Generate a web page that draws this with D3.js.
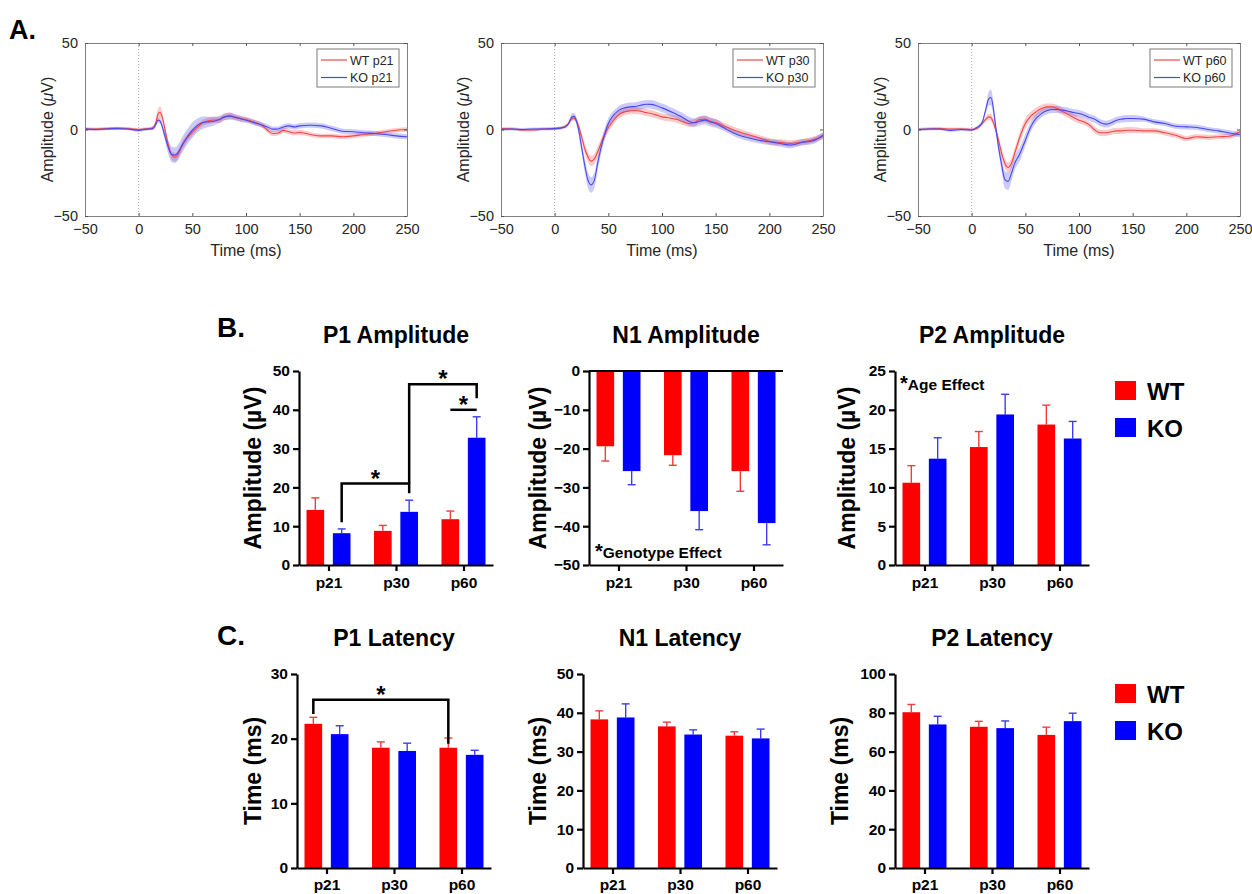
<!DOCTYPE html>
<html>
<head>
<meta charset="utf-8">
<script src="https://cdn.jsdelivr.net/npm/d3@7"></script>
<style>
  body { margin: 0; background: #fff; }
  text { font-family: "Liberation Sans", Arial, Helvetica, sans-serif; }
</style>
</head>
<body>
<script>
// ---- A. grand average waveforms (µV) ----
var times = [-50, -40, -30, -20, -10, 0, 5, 10, 13, 16, 18, 20, 22, 25, 28, 31, 34, 37, 40,
  45, 50, 55, 60, 65, 70, 75, 80, 85, 90, 95, 100, 105, 110, 115, 120, 125, 130, 135, 140, 145, 150,
  160, 170, 180, 190, 200, 210, 220, 230, 240, 250];

var wtP21 = [0, 0.3, 0.5, 0.8, 0.5, 0, 0.3, 0.5, 1, 4, 9, 10, 7, -1.5, -10, -15, -16, -14, -10,
  -5, -1.5, 1.5, 4, 5, 5.5, 5.5, 7.3, 8, 7, 6.3, 5.8, 4.8, 3.8, 2.5, -0.4, -2.3, -2, -0.5, -1.3, -2, -1.7,
  -2.9, -3.7, -3.7, -4.2, -3.7, -2.9, -2.3, -1.3, -0.4, 0];
var wtP21Sem = [0.8, 0.8, 0.8, 0.8, 0.8, 0.8, 0.8, 0.8, 1, 2, 3, 3.5, 3, 2.5, 2.5, 2.5, 2.5, 2.5, 2.5,
  2.2, 2, 1.8, 1.8, 1.8, 1.8, 1.8, 1.8, 1.8, 1.5, 1.5, 1.5, 1.5, 1.5, 1.5, 1.5, 1.5, 1.5, 1.5, 1.5, 1.5, 1.5,
  1.3, 1.3, 1.3, 1.3, 1.3, 1.3, 1.3, 1.3, 1.3, 1.3];
var koP21 = [0.5, 0, 0.3, 0.5, 0.3, -0.5, 0, 0.3, 0.5, 3, 5.4, 4.8, 1.5, -5, -11, -14.5, -14.8, -13, -9.5,
  -4.5, -0.4, 2.5, 4, 4.4, 4.8, 5.8, 7.3, 7.7, 7, 6.2, 5.4, 4.5, 3.5, 2.5, 1.5, 0.2, 0.3, 1.5, 2.1, 1.5, 2.1,
  2.5, 2.1, 0.6, -1, -1.3, -1.9, -2.3, -2.9, -3.7, -4.2];
var koP21Sem = [0.8, 0.8, 0.8, 0.8, 0.8, 0.8, 0.8, 0.8, 1, 1.5, 1.5, 1.5, 2, 3, 4, 4.5, 4.5, 4.5, 4.5,
  4.5, 4.5, 4, 3.5, 3, 2.5, 2, 2, 2, 1.8, 1.8, 1.5, 1.5, 1.5, 1.5, 1.5, 1.5, 1.5, 1.5, 1.5, 1.5, 1.5,
  1.5, 1.5, 1.5, 1.5, 1.5, 1.5, 1.5, 1.5, 1.5, 1.5];

var wtP30 = [0.5, 0.3, -0.3, -0.3, 0.3, 0.5, 0.8, 2, 3.5, 6.4, 6.7, 5.4, 2.5, -4, -11, -15.8, -18.3, -17, -13,
  -5.2, 1, 5.4, 8.7, 10.2, 10.8, 11, 10.6, 9.8, 9.2, 8.3, 7.3, 6.9, 6.4, 5.6, 4.4, 3.5, 4, 5.8, 6, 4.8, 4,
  1.5, -1, -2.9, -4.8, -6.8, -7.5, -8, -7.3, -6, -4];
var wtP30Sem = [0.8, 0.8, 0.8, 0.8, 0.8, 0.8, 0.8, 0.8, 1, 1.5, 1.5, 1.5, 2, 2.5, 3, 3, 3, 3, 3,
  2.5, 2.5, 2.2, 2.2, 2, 2, 2, 2, 2, 2, 2, 2, 2, 2, 2, 2, 2, 2, 2, 2, 2, 2,
  1.8, 1.8, 1.8, 1.8, 1.8, 1.8, 1.8, 1.8, 1.8, 1.8];
var koP30 = [0, 0.3, 0, 0.3, 0.3, 0.5, 0.8, 1.5, 3.5, 7.3, 7.7, 5.4, 0.6, -10, -20.6, -29.3, -32, -29.3, -19.7,
  -6.2, 3.5, 8.3, 11.2, 12.5, 13.1, 13.3, 14, 14.6, 14.5, 13.7, 12.5, 11.2, 9.8, 8.3, 6.7, 4.8, 3.9, 4.8, 5.4, 4.4, 3.5,
  0.2, -2.9, -4.8, -6.2, -7.1, -8.1, -9, -7.5, -6.7, -3.3];
var koP30Sem = [0.8, 0.8, 0.8, 0.8, 0.8, 0.8, 0.8, 0.8, 1, 2, 2, 2, 2, 3, 4, 4.5, 4.5, 4.5, 4,
  3.5, 3, 2.5, 2.5, 2.5, 2.5, 2.5, 2.5, 2.5, 2.5, 2.5, 2.5, 2.5, 2.5, 2.5, 2.5, 2.5, 2.5, 2.5, 2.5, 2.5, 2.5,
  1.8, 1.8, 1.8, 1.8, 1.8, 1.8, 1.8, 1.8, 1.8, 1.8];

var wtP60 = [0, 0.3, 0.5, 0.3, 0.3, 0, 0.6, 3.5, 5.8, 7.3, 6.9, 4.4, 0.6, -6.2, -13.9, -19.7, -22, -19.7, -13.9,
  -4.2, 3.5, 7.7, 10.2, 12.1, 13.1, 13.1, 12.1, 10.2, 8.7, 6.9, 5.4, 4.4, 2.5, -0.4, -1.9, -1.9, -1.3, -0.8, -0.8, -0.4, -0.4,
  -0.8, -0.8, -1.9, -3.3, -5.2, -4.2, -4.6, -4.2, -3.9, -1.3];
var wtP60Sem = [0.8, 0.8, 0.8, 0.8, 0.8, 0.8, 0.8, 0.8, 1.2, 2, 2, 2, 2, 2.5, 3, 3, 3, 3, 3,
  3, 3, 2.5, 2.5, 2.2, 2, 2, 2, 2, 2, 2, 2, 1.8, 1.8, 1.8, 1.8, 1.8, 1.8, 1.8, 1.8, 1.8, 1.8,
  1.5, 1.5, 1.5, 1.5, 1.5, 1.5, 1.5, 1.5, 1.5, 1.5];
var koP60 = [0, 0.3, 0.3, -0.5, 0, -0.3, 1.2, 4.4, 11.2, 17.9, 18.5, 13.1, 3.5, -10, -20.6, -29, -30, -25.4, -19.7,
  -13.9, -6.2, 1.5, 6.4, 9.2, 10.8, 11.6, 11.6, 11.2, 10.6, 9.8, 9.2, 8.3, 6.9, 5.8, 3.9, 3.1, 3.9, 5.4, 6, 6.4, 6.4,
  6, 4.4, 3.5, 1.9, 1.5, 1.2, 0, -0.8, -2, -3];
var koP60Sem = [0.8, 0.8, 0.8, 0.8, 0.8, 0.8, 0.8, 0.8, 2, 4, 4.5, 4, 3, 3, 4, 5, 5, 4.5, 4,
  4, 3.5, 3, 2.5, 2.2, 2, 2, 2, 2, 2, 2, 2, 2, 2, 2, 2, 2, 2, 2, 2, 2, 2,
  1.5, 1.5, 1.5, 1.5, 1.5, 1.5, 1.5, 1.5, 1.5, 1.5];

// ---- B / C. peak measures (mean and SEM) ----
var ages = ['p21', 'p30', 'p60'];
var genotypes = ['WT', 'KO'];

var p1AmpWT = [14.2, 8.8, 11.8], p1AmpWTErr = [3.1, 1.4, 2.1];
var p1AmpKO = [8.2, 13.7, 32.8], p1AmpKOErr = [1.1, 3.0, 5.4];
var n1AmpWT = [-19.4, -21.7, -25.8], n1AmpWTErr = [3.8, 2.6, 5.2];
var n1AmpKO = [-25.8, -36.1, -39.2], n1AmpKOErr = [3.5, 4.8, 5.6];
var p2AmpWT = [10.6, 15.2, 18.1], p2AmpWTErr = [2.2, 2.0, 2.5];
var p2AmpKO = [13.7, 19.4, 16.3], p2AmpKOErr = [2.7, 2.6, 2.2];

var p1LatWT = [22.3, 18.6, 18.6], p1LatWTErr = [1.0, 0.9, 1.5];
var p1LatKO = [20.7, 18.1, 17.5], p1LatKOErr = [1.3, 1.2, 0.7];
var n1LatWT = [38.3, 36.5, 34.1], n1LatWTErr = [2.2, 1.1, 1.0];
var n1LatKO = [38.8, 34.4, 33.4], n1LatKOErr = [3.5, 1.2, 2.4];
var p2LatWT = [80.3, 72.8, 68.6], p2LatWTErr = [4.0, 2.8, 4.0];
var p2LatKO = [74.0, 72.1, 75.7], p2LatKOErr = [4.2, 3.7, 4.1];

// significance brackets: [age, genotype, value] corner points
var p1AmpBrackets = [
  [['p21', 'KO', 11], ['p21', 'KO', 21], ['p30', 'KO', 21], ['p30', 'KO', 18.5]],
  [['p30', 'KO', 21], ['p30', 'KO', 46.6], ['p60', 'KO', 46.6], ['p60', 'KO', 43]],
  [['p60', 'WT', 40], ['p60', 'KO', 40]]
];
var p1LatBrackets = [
  [['p21', 'WT', 23.8], ['p21', 'WT', 26], ['p60', 'WT', 26], ['p60', 'WT', 19.2]]
];

var svg = d3.select('body').append('svg').attr('width', 1252).attr('height', 894);

var RED = '#ff0000', BLUE = '#0000ff';

// ---------------- A ----------------
svg.append('text').attr('x', 9).attr('y', 39)
  .style('font-size', '27px').style('font-weight', 'bold').text('A.');

var erpPanels = [
  {left: 85, age: 'p21', wt: wtP21, wtSem: wtP21Sem, ko: koP21, koSem: koP21Sem},
  {left: 501, age: 'p30', wt: wtP30, wtSem: wtP30Sem, ko: koP30, koSem: koP30Sem},
  {left: 918, age: 'p60', wt: wtP60, wtSem: wtP60Sem, ko: koP60, koSem: koP60Sem}
];
erpPanels.forEach(drawErp);

function drawErp(p, i) {
  var top = 43, bottom = 216, width = 322;
  var x = d3.scaleLinear().domain([-50, 250]).range([p.left, p.left + width]);
  var y = d3.scaleLinear().domain([-50, 50]).range([bottom, top]);
  var g = svg.append('g').attr('class', 'erp');

  g.append('clipPath').attr('id', 'erpclip' + i).append('rect')
    .attr('x', p.left).attr('y', top).attr('width', width).attr('height', bottom - top);

  g.append('line')
    .attr('x1', x(0)).attr('x2', x(0)).attr('y1', top).attr('y2', bottom)
    .attr('stroke', '#aaa').attr('stroke-width', 1).attr('stroke-dasharray', '1,2');

  var traces = g.append('g').attr('clip-path', 'url(#erpclip' + i + ')');
  var series = [
    {m: p.wt, s: p.wtSem, fill: '#f03a3a', line: '#f04848'},
    {m: p.ko, s: p.koSem, fill: '#3a3af0', line: '#4848f0'}
  ];
  series.forEach(function(sr) {
    var pts = times.map(function(t, j) { return {t: t, m: sr.m[j], s: sr.s[j]}; });
    var area = d3.area().curve(d3.curveMonotoneX)
      .x(function(d) { return x(d.t); })
      .y0(function(d) { return y(d.m - d.s); })
      .y1(function(d) { return y(d.m + d.s); });
    traces.append('path').datum(pts).attr('d', area)
      .attr('fill', sr.fill).attr('fill-opacity', 0.27);
  });
  series.forEach(function(sr) {
    var pts = times.map(function(t, j) { return {t: t, m: sr.m[j]}; });
    var line = d3.line().curve(d3.curveMonotoneX)
      .x(function(d) { return x(d.t); })
      .y(function(d) { return y(d.m); });
    traces.append('path').datum(pts).attr('d', line)
      .attr('fill', 'none').attr('stroke', sr.line).attr('stroke-width', 1.1);
  });

  var xt = [-50, 0, 50, 100, 150, 200, 250];
  var axes = [
    g.append('g').attr('transform', 'translate(0,' + bottom + ')')
      .call(d3.axisBottom(x).tickValues(xt).tickSize(-3).tickSizeOuter(0).tickPadding(8)),
    g.append('g').attr('transform', 'translate(0,' + top + ')')
      .call(d3.axisTop(x).tickValues(xt).tickSize(-3).tickSizeOuter(0).tickFormat('')),
    g.append('g').attr('transform', 'translate(' + p.left + ',0)')
      .call(d3.axisLeft(y).tickValues([-50, 0, 50]).tickSize(-3).tickSizeOuter(0).tickPadding(7)),
    g.append('g').attr('transform', 'translate(' + (p.left + width) + ',0)')
      .call(d3.axisRight(y).tickValues([-50, 0, 50]).tickSize(-3).tickSizeOuter(0).tickFormat(''))
  ];
  axes.forEach(function(a) {
    a.select('.domain').attr('stroke', '#808080').attr('stroke-width', 1);
    a.selectAll('.tick line').attr('stroke', '#555');
    a.selectAll('text').style('font-family', '"Liberation Sans", Arial, sans-serif')
      .style('font-size', '14.5px').attr('fill', '#262626');
  });

  g.append('text').attr('x', p.left + width / 2).attr('y', 256)
    .attr('text-anchor', 'middle').style('font-size', '16px').attr('fill', '#262626')
    .text('Time (ms)');

  var yl = g.append('text')
    .attr('transform', 'translate(' + (p.left - 38) + ',' + ((top + bottom) / 2) + ') rotate(-90)')
    .attr('text-anchor', 'middle').attr('dy', '0.35em')
    .style('font-size', '16px').attr('fill', '#262626');
  yl.append('tspan').text('Amplitude (');
  yl.append('tspan').style('font-style', 'italic').text('\u03bc');
  yl.append('tspan').text('V)');

  // legend
  var lx = p.left + width - 90, ly = top + 6;
  var lg = g.append('g').attr('transform', 'translate(' + lx + ',' + ly + ')');
  lg.append('rect').attr('width', 82).attr('height', 38)
    .attr('fill', '#fff').attr('stroke', '#7a7a7a').attr('stroke-width', 1);
  [['WT ' + p.age, '#f04848'], ['KO ' + p.age, '#4848f0']].forEach(function(it, k) {
    var yy = 11 + k * 17.5;
    lg.append('line').attr('x1', 4).attr('x2', 30).attr('y1', yy).attr('y2', yy)
      .attr('stroke', it[1]).attr('stroke-width', 1.2);
    lg.append('text').attr('x', 33).attr('y', yy + 4.5)
      .style('font-size', '12.5px').attr('fill', '#262626').text(it[0]);
  });
}

// ---------------- B / C ----------------
svg.append('text').attr('x', 217).attr('y', 337)
  .style('font-size', '28px').style('font-weight', 'bold').text('B.');
svg.append('text').attr('x', 217).attr('y', 645)
  .style('font-size', '28px').style('font-weight', 'bold').text('C.');

var barCharts = [
  {left: 299, top: 371, title: 'P1 Amplitude', label: 'Amplitude (\u00b5V)', domain: [0, 50], ticks: d3.range(0, 51, 10),
    wt: p1AmpWT, wtErr: p1AmpWTErr, ko: p1AmpKO, koErr: p1AmpKOErr, labelDx: -46, catDy: 18, brackets: p1AmpBrackets},
  {left: 589, top: 371, title: 'N1 Amplitude', label: 'Amplitude (\u00b5V)', domain: [-50, 0], ticks: d3.range(-50, 1, 10),
    wt: n1AmpWT, wtErr: n1AmpWTErr, ko: n1AmpKO, koErr: n1AmpKOErr, labelDx: -51, catDy: 18,
    note: {text: 'Genotype Effect', dx: 6, value: -48.3}},
  {left: 895, top: 371, title: 'P2 Amplitude', label: 'Amplitude (\u00b5V)', domain: [0, 25], ticks: d3.range(0, 26, 5),
    wt: p2AmpWT, wtErr: p2AmpWTErr, ko: p2AmpKO, koErr: p2AmpKOErr, labelDx: -48, catDy: 18,
    note: {text: 'Age Effect', dx: 5, value: 22.5}, legend: true},
  {left: 297, top: 674, title: 'P1 Latency', label: 'Time (ms)', domain: [0, 30], ticks: d3.range(0, 31, 10),
    wt: p1LatWT, wtErr: p1LatWTErr, ko: p1LatKO, koErr: p1LatKOErr, labelDx: -44, catDy: 17, brackets: p1LatBrackets},
  {left: 583, top: 674, title: 'N1 Latency', label: 'Time (ms)', domain: [0, 50], ticks: d3.range(0, 51, 10),
    wt: n1LatWT, wtErr: n1LatWTErr, ko: n1LatKO, koErr: n1LatKOErr, labelDx: -45, catDy: 17},
  {left: 895, top: 674, title: 'P2 Latency', label: 'Time (ms)', domain: [0, 100], ticks: d3.range(0, 101, 20),
    wt: p2LatWT, wtErr: p2LatWTErr, ko: p2LatKO, koErr: p2LatKOErr, labelDx: -55, catDy: 17, legend: true}
];
barCharts.forEach(drawBars);

function drawBars(c) {
  var W = 194, H = 194;
  var bottom = c.top + H;
  var x = d3.scalePoint().domain(ages).range([c.left, c.left + W]).padding(0.437);
  var xg = d3.scaleBand().domain(genotypes).range([-22, 22]).paddingInner(0.33);
  var y = d3.scaleLinear().domain(c.domain).range([bottom, c.top]);
  var g = svg.append('g').attr('class', 'bars');

  var rows = [];
  ages.forEach(function(a, i) {
    rows.push({age: a, gen: 'WT', v: c.wt[i], e: c.wtErr[i], fill: RED, err: '#f03c3c'});
    rows.push({age: a, gen: 'KO', v: c.ko[i], e: c.koErr[i], fill: BLUE, err: '#3c3cf0'});
  });
  function bx(d) { return x(d.age) + xg(d.gen); }

  // error bars (one-sided, away from zero)
  var eb = g.selectAll('.err').data(rows).enter().append('g').attr('class', 'err')
    .attr('stroke', function(d) { return d.err; }).attr('stroke-width', 1.4);
  eb.append('line')
    .attr('x1', function(d) { return bx(d) + xg.bandwidth() / 2; })
    .attr('x2', function(d) { return bx(d) + xg.bandwidth() / 2; })
    .attr('y1', function(d) { return y(d.v); })
    .attr('y2', function(d) { return y(d.v + Math.sign(d.v) * d.e); });
  eb.append('line')
    .attr('x1', function(d) { return bx(d) + xg.bandwidth() / 2 - 4; })
    .attr('x2', function(d) { return bx(d) + xg.bandwidth() / 2 + 4; })
    .attr('y1', function(d) { return y(d.v + Math.sign(d.v) * d.e); })
    .attr('y2', function(d) { return y(d.v + Math.sign(d.v) * d.e); });

  g.selectAll('.bar').data(rows).enter().append('rect').attr('class', 'bar')
    .attr('x', bx).attr('width', xg.bandwidth())
    .attr('y', function(d) { return Math.min(y(0), y(d.v)); })
    .attr('height', function(d) { return Math.abs(y(d.v) - y(0)); })
    .attr('fill', function(d) { return d.fill; });

  // axes
  var ya = g.append('g').attr('transform', 'translate(' + c.left + ',0)')
    .call(d3.axisLeft(y).tickValues(c.ticks).tickSize(6).tickSizeOuter(0).tickPadding(3));
  var xa = g.append('g').attr('transform', 'translate(0,' + bottom + ')')
    .call(d3.axisBottom(x).tickSize(6).tickSizeOuter(0).tickPadding(c.catDy - 12));
  [ya, xa].forEach(function(a) {
    a.select('.domain').attr('stroke', '#000').attr('stroke-width', 2.2);
    a.selectAll('.tick line').attr('stroke', '#000').attr('stroke-width', 2.2);
    a.selectAll('text').style('font-family', '"Liberation Sans", Arial, sans-serif')
      .style('font-size', '15.5px').style('font-weight', 'bold').attr('fill', '#000');
  });
  if (c.domain[1] === 0) {
    g.append('line').attr('x1', c.left).attr('x2', c.left + W)
      .attr('y1', y(0)).attr('y2', y(0)).attr('stroke', '#000').attr('stroke-width', 2.2);
  }

  g.append('text').attr('x', c.left + W / 2).attr('y', c.top - 28)
    .attr('text-anchor', 'middle').style('font-size', '23px').style('font-weight', 'bold')
    .text(c.title);
  g.append('text')
    .attr('transform', 'translate(' + (c.left + c.labelDx) + ',' + (c.top + H / 2) + ') rotate(-90)')
    .attr('text-anchor', 'middle').attr('dy', '0.35em')
    .style('font-size', '23px').style('font-weight', 'bold').text(c.label);

  (c.brackets || []).forEach(function(b) {
    var pts = b.map(function(q) { return [x(q[0]) + xg(q[1]) + xg.bandwidth() / 2, y(q[2])]; });
    g.append('path').attr('d', d3.line()(pts))
      .attr('fill', 'none').attr('stroke', '#000').attr('stroke-width', 2.5);
    var xs = pts.map(function(q) { return q[0]; });
    var topY = d3.min(pts, function(q) { return q[1]; });
    g.append('text').attr('x', (d3.min(xs) + d3.max(xs)) / 2).attr('y', topY + 3)
      .attr('text-anchor', 'middle').style('font-size', '24px').style('font-weight', 'bold').text('*');
  });

  if (c.note) {
    var nt = g.append('text').attr('x', c.left + c.note.dx).attr('y', y(c.note.value))
      .style('font-weight', 'bold');
    nt.append('tspan').style('font-size', '20px').text('*');
    nt.append('tspan').style('font-size', '15.5px').text(c.note.text);
  }

  if (c.legend) {
    var items = [['WT', RED], ['KO', BLUE]];
    items.forEach(function(it, k) {
      var top = c.top + 10 + k * 37;
      g.append('rect').attr('x', 1115).attr('y', top).attr('width', 21).attr('height', 19)
        .attr('fill', it[1]);
      g.append('text').attr('x', 1147).attr('y', top + 18.5)
        .style('font-size', '24px').style('font-weight', 'bold').text(it[0]);
    });
  }
}
</script>
</body>
</html>
